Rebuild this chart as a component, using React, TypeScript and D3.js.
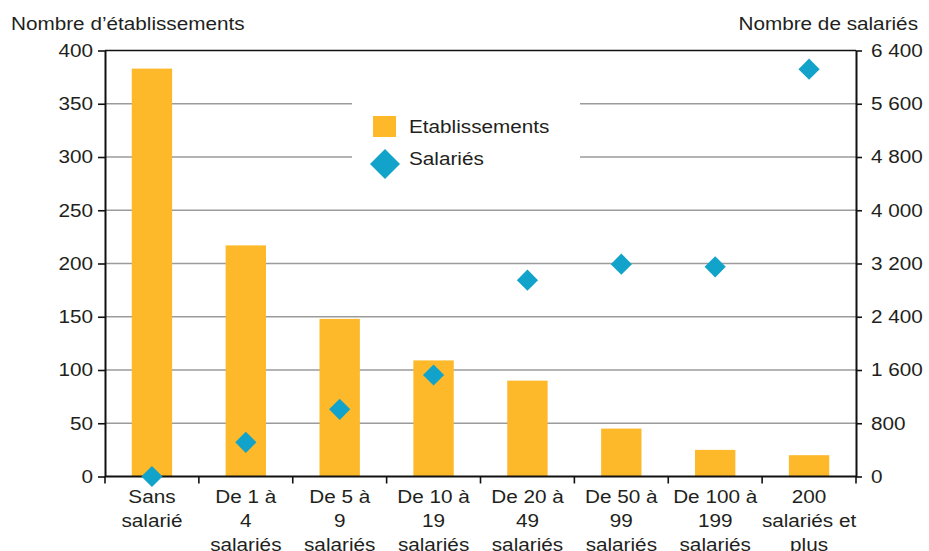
import { useEffect, useRef } from "react";
import * as d3 from "d3";

const categories = [
  "Sans\nsalarié",
  "De 1 à\n4\nsalariés",
  "De 5 à\n9\nsalariés",
  "De 10 à\n19\nsalariés",
  "De 20 à\n49\nsalariés",
  "De 50 à\n99\nsalariés",
  "De 100 à\n199\nsalariés",
  "200\nsalariés et\nplus",
];
const etablissements = [383, 217, 148, 109, 90, 45, 25, 20];
const salaries = [0, 514, 1010, 1525, 2950, 3190, 3150, 6120];
const leftTicks = [0, 50, 100, 150, 200, 250, 300, 350, 400];
const rightTicks = [0, 800, 1600, 2400, 3200, 4000, 4800, 5600, 6400];

const BAR = "#fdb92a";
const DIAMOND = "#11a3c9";
const TEXT = "#231f20";
const FONT = "'Liberation Sans', Arial, sans-serif";
const FS = 18.5;
const SX = 1.12; // the reference text is a bit wider than Arial

const App = () => {
  const svgRef = useRef<SVGSVGElement | null>(null);

  useEffect(() => {
    const svg = d3.select(svgRef.current);
    svg.selectAll("*").remove();

    const width = 929,
      height = 551;
    const left = 105,
      right = 856,
      top = 50.5,
      bottom = 476.5;

    const x = d3
      .scaleBand()
      .domain(categories)
      .range([left, right])
      .paddingInner(0.57)
      .paddingOuter(0.285);
    const yL = d3.scaleLinear().domain([0, 400]).range([bottom, top]);
    const yR = d3.scaleLinear().domain([0, 6400]).range([bottom, top]);

    const fmt = d3.formatLocale({
      decimal: ",",
      thousands: " ",
      grouping: [3],
      currency: ["", " €"],
    }).format(",d");

    svg
      .attr("width", width)
      .attr("height", height)
      .style("font-family", FONT)
      .style("font-size", `${FS}px`);

    svg.append("rect").attr("width", width).attr("height", height).attr("fill", "#fff");

    // gridlines
    svg
      .append("g")
      .selectAll("line")
      .data(leftTicks.filter((d) => d > 0 && d < 400))
      .enter()
      .append("line")
      .attr("x1", left)
      .attr("x2", right)
      .attr("y1", (d) => yL(d))
      .attr("y2", (d) => yL(d))
      .attr("stroke", "#9b9b9b")
      .attr("stroke-width", 1.4);

    // top border
    svg
      .append("line")
      .attr("x1", left)
      .attr("x2", right)
      .attr("y1", top)
      .attr("y2", top)
      .attr("stroke", "#111")
      .attr("stroke-width", 1.6);

    // bars
    svg
      .append("g")
      .selectAll("rect")
      .data(etablissements)
      .enter()
      .append("rect")
      .attr("x", (_, i) => x(categories[i])!)
      .attr("y", (d) => yL(d))
      .attr("width", x.bandwidth())
      .attr("height", (d) => bottom - yL(d))
      .attr("fill", BAR);

    // legend
    const lg = svg.append("g");
    lg.append("rect")
      .attr("x", 352)
      .attr("y", 92)
      .attr("width", 228)
      .attr("height", 86)
      .attr("fill", "#fff");
    lg.append("rect")
      .attr("x", 373)
      .attr("y", 116)
      .attr("width", 23)
      .attr("height", 21)
      .attr("fill", BAR);
    lg.append("path")
      .attr("d", d3.symbol(d3.symbolSquare, 450)()!)
      .attr("transform", "translate(385,164) rotate(45)")
      .attr("fill", DIAMOND);
    [
      { t: "Etablissements", y: 133 },
      { t: "Salariés", y: 164.5 },
    ].forEach((d) => {
      lg.append("text")
        .attr("transform", `translate(409,${d.y}) scale(${SX},1)`)
        .attr("fill", TEXT)
        .text(d.t);
    });

    const styleAxis = (g: d3.Selection<SVGGElement, unknown, null, undefined>) => {
      g.select(".domain").attr("stroke", "#111").attr("stroke-width", 2);
      g.selectAll(".tick line").attr("stroke", "#111").attr("stroke-width", 1.6);
      g.selectAll(".tick text")
        .attr("fill", TEXT)
        .style("font-family", FONT)
        .style("font-size", `${FS}px`);
    };

    // left axis
    const gl = svg
      .append("g")
      .attr("transform", `translate(${left},0)`)
      .call(d3.axisLeft(yL).tickValues(leftTicks).tickSize(7).tickSizeOuter(0).tickPadding(5));
    styleAxis(gl);
    gl.selectAll<SVGTextElement, number>(".tick text")
      .attr("x", -12 / SX)
      .attr("transform", `scale(${SX},1)`);

    // right axis
    const gr = svg
      .append("g")
      .attr("transform", `translate(${right},0)`)
      .call(
        d3
          .axisRight(yR)
          .tickValues(rightTicks)
          .tickFormat((d) => fmt(d as number))
          .tickSize(6)
          .tickSizeOuter(0)
          .tickPadding(9)
      );
    styleAxis(gr);
    gr.selectAll<SVGTextElement, number>(".tick text")
      .attr("x", 15 / SX)
      .attr("transform", `scale(${SX},1)`);

    // bottom axis: ticks at category boundaries
    const step = x.step();
    const bounds = d3.range(categories.length + 1).map((i) => left + i * step);
    const gb = svg.append("g");
    gb.append("line")
      .attr("x1", left)
      .attr("x2", right)
      .attr("y1", bottom)
      .attr("y2", bottom)
      .attr("stroke", "#111")
      .attr("stroke-width", 2);
    gb.selectAll(".btick")
      .data(bounds)
      .enter()
      .append("line")
      .attr("class", "btick")
      .attr("x1", (d) => d)
      .attr("x2", (d) => d)
      .attr("y1", bottom)
      .attr("y2", bottom + 7)
      .attr("stroke", "#111")
      .attr("stroke-width", 1.6);
    categories.forEach((c) => {
      const cx = x(c)! + x.bandwidth() / 2;
      c.split("\n").forEach((line, j) => {
        gb.append("text")
          .attr("transform", `translate(${cx},${503 + j * 24}) scale(${SX},1)`)
          .attr("text-anchor", "middle")
          .attr("fill", TEXT)
          .text(line);
      });
    });

    // diamonds (right axis)
    svg
      .append("g")
      .selectAll("path")
      .data(salaries)
      .enter()
      .append("path")
      .attr("d", d3.symbol(d3.symbolSquare, 225)()!)
      .attr(
        "transform",
        (d, i) => `translate(${x(categories[i])! + x.bandwidth() / 2},${yR(d)}) rotate(45)`
      )
      .attr("fill", DIAMOND);

    // axis titles
    svg
      .append("text")
      .attr("transform", `translate(11,30) scale(${SX},1)`)
      .attr("fill", TEXT)
      .text("Nombre d’établissements");
    svg
      .append("text")
      .attr("transform", `translate(918,30) scale(${SX},1)`)
      .attr("text-anchor", "end")
      .attr("fill", TEXT)
      .text("Nombre de salariés");
  }, []);

  return (
    <svg
      ref={svgRef}
      width={929}
      height={551}
      style={{ position: "absolute", left: 0, top: 0, display: "block" }}
    ></svg>
  );
};

export default App;
